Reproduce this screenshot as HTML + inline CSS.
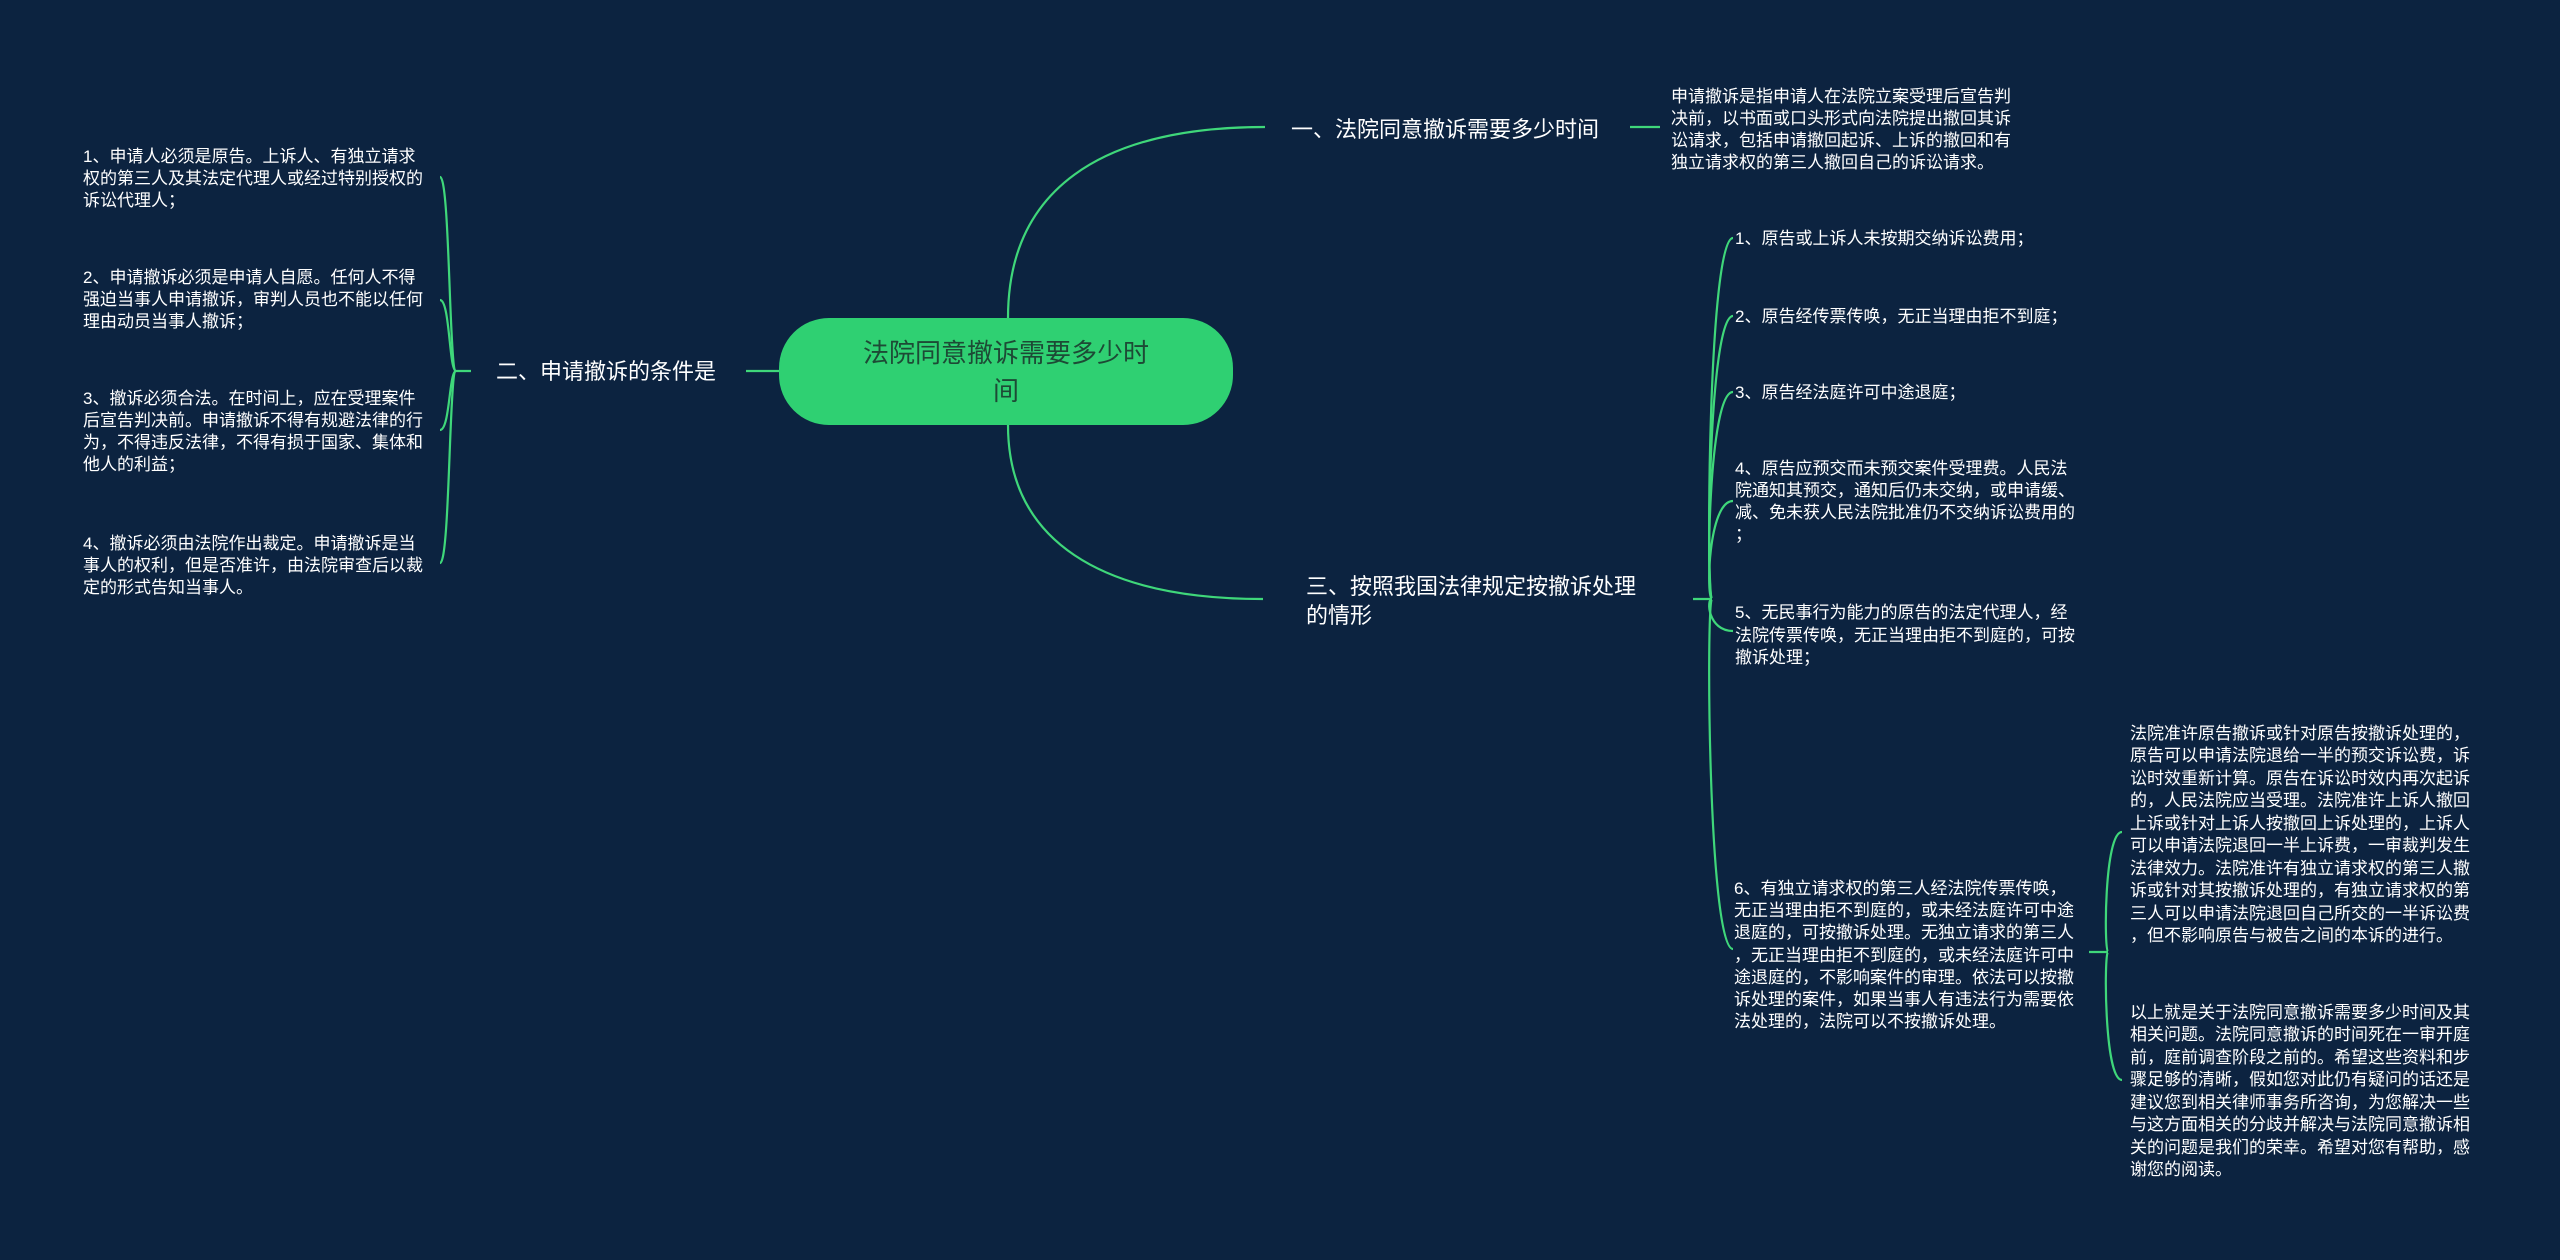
<!DOCTYPE html>
<html><head><meta charset="utf-8"><style>
html,body{margin:0;padding:0;background:#0c2340;}
svg{display:block}
text{font-family:"Liberation Sans","Noto Sans CJK SC",sans-serif;fill:#ffffff;}
.s{font-size:17px}
.t{font-size:22px}
</style></head><body>
<svg width="2560" height="1260" viewBox="0 0 2560 1260" xmlns="http://www.w3.org/2000/svg">
<rect width="2560" height="1260" fill="#0c2340"/>
<g fill="none" stroke="#3fd77a" stroke-width="2.2">
<path d="M1008,318 C1008,190 1100,127 1265,127"/>
<path d="M1008,425 C1008,540 1100,599 1263,599"/>
<path d="M1630,127 L1660,127"/>
<path d="M746,371 L779,371"/>
<path d="M454,371 L471,371"/>
<path d="M456,371 C449,371 450,177 440,177"/>
<path d="M456,371 C449,371 450,300 440,300"/>
<path d="M456,371 C449,371 450,430 440,430"/>
<path d="M456,371 C449,371 450,563 440,563"/>
<path d="M1693,599 L1712,599"/>
<path d="M1712,599 C1706,599 1708,238 1733,238"/>
<path d="M1712,599 C1706,599 1708,316 1733,316"/>
<path d="M1712,599 C1706,599 1708,392 1733,392"/>
<path d="M1712,599 C1706,599 1708,501 1733,501"/>
<path d="M1712,599 C1706,599 1708,631 1733,631"/>
<path d="M1712,599 C1706,599 1708,949 1733,949"/>
<path d="M2089,952 L2108,952"/>
<path d="M2108,952 C2104,952 2104,832 2122,832"/>
<path d="M2108,952 C2104,952 2104,1080 2122,1080"/>
</g>
<rect x="779" y="318" width="454" height="107" rx="50" fill="#2fd072"/>
<text x="1006" y="362" text-anchor="middle" style="font-size:26px;fill:#1d4a35">法院同意撤诉需要多少时</text>
<text x="1006" y="400" text-anchor="middle" style="font-size:26px;fill:#1d4a35">间</text>

<text class="t" x="1291" y="137">一、法院同意撤诉需要多少时间</text>
<text class="t" x="496" y="379">二、申请撤诉的条件是</text>
<text class="t" x="1306" y="594">三、按照我国法律规定按撤诉处理</text>
<text class="t" x="1306" y="623">的情形</text>

<g class="s">
<text class="s" x="1671" y="102">申请撤诉是指申请人在法院立案受理后宣告判</text>
<text class="s" x="1671" y="124">决前，以书面或口头形式向法院提出撤回其诉</text>
<text class="s" x="1671" y="146">讼请求，包括申请撤回起诉、上诉的撤回和有</text>
<text class="s" x="1671" y="168">独立请求权的第三人撤回自己的诉讼请求。</text>

<text class="s" x="83" y="162">1、申请人必须是原告。上诉人、有独立请求</text>
<text class="s" x="83" y="184">权的第三人及其法定代理人或经过特别授权的</text>
<text class="s" x="83" y="206">诉讼代理人；</text>
<text class="s" x="83" y="283">2、申请撤诉必须是申请人自愿。任何人不得</text>
<text class="s" x="83" y="305">强迫当事人申请撤诉，审判人员也不能以任何</text>
<text class="s" x="83" y="327">理由动员当事人撤诉；</text>
<text class="s" x="83" y="404">3、撤诉必须合法。在时间上，应在受理案件</text>
<text class="s" x="83" y="426">后宣告判决前。申请撤诉不得有规避法律的行</text>
<text class="s" x="83" y="448">为，不得违反法律，不得有损于国家、集体和</text>
<text class="s" x="83" y="470">他人的利益；</text>
<text class="s" x="83" y="549">4、撤诉必须由法院作出裁定。申请撤诉是当</text>
<text class="s" x="83" y="571">事人的权利，但是否准许，由法院审查后以裁</text>
<text class="s" x="83" y="593">定的形式告知当事人。</text>

<text class="s" x="1735" y="244">1、原告或上诉人未按期交纳诉讼费用；</text>
<text class="s" x="1735" y="322">2、原告经传票传唤，无正当理由拒不到庭；</text>
<text class="s" x="1735" y="398">3、原告经法庭许可中途退庭；</text>
<text class="s" x="1735" y="474">4、原告应预交而未预交案件受理费。人民法</text>
<text class="s" x="1735" y="496">院通知其预交，通知后仍未交纳，或申请缓、</text>
<text class="s" x="1735" y="518">减、免未获人民法院批准仍不交纳诉讼费用的</text>
<text class="s" x="1735" y="540">；</text>
<text class="s" x="1735" y="618">5、无民事行为能力的原告的法定代理人，经</text>
<text class="s" x="1735" y="641">法院传票传唤，无正当理由拒不到庭的，可按</text>
<text class="s" x="1735" y="663">撤诉处理；</text>

<text class="s" x="1734" y="894">6、有独立请求权的第三人经法院传票传唤，</text>
<text class="s" x="1734" y="916">无正当理由拒不到庭的，或未经法庭许可中途</text>
<text class="s" x="1734" y="938">退庭的，可按撤诉处理。无独立请求的第三人</text>
<text class="s" x="1734" y="961">，无正当理由拒不到庭的，或未经法庭许可中</text>
<text class="s" x="1734" y="983">途退庭的，不影响案件的审理。依法可以按撤</text>
<text class="s" x="1734" y="1005">诉处理的案件，如果当事人有违法行为需要依</text>
<text class="s" x="1734" y="1027">法处理的，法院可以不按撤诉处理。</text>

<text class="s" x="2130" y="739">法院准许原告撤诉或针对原告按撤诉处理的，</text>
<text class="s" x="2130" y="761">原告可以申请法院退给一半的预交诉讼费，诉</text>
<text class="s" x="2130" y="784">讼时效重新计算。原告在诉讼时效内再次起诉</text>
<text class="s" x="2130" y="806">的，人民法院应当受理。法院准许上诉人撤回</text>
<text class="s" x="2130" y="829">上诉或针对上诉人按撤回上诉处理的，上诉人</text>
<text class="s" x="2130" y="851">可以申请法院退回一半上诉费，一审裁判发生</text>
<text class="s" x="2130" y="874">法律效力。法院准许有独立请求权的第三人撤</text>
<text class="s" x="2130" y="896">诉或针对其按撤诉处理的，有独立请求权的第</text>
<text class="s" x="2130" y="919">三人可以申请法院退回自己所交的一半诉讼费</text>
<text class="s" x="2130" y="941">，但不影响原告与被告之间的本诉的进行。</text>

<text class="s" x="2130" y="1018">以上就是关于法院同意撤诉需要多少时间及其</text>
<text class="s" x="2130" y="1040">相关问题。法院同意撤诉的时间死在一审开庭</text>
<text class="s" x="2130" y="1063">前，庭前调查阶段之前的。希望这些资料和步</text>
<text class="s" x="2130" y="1085">骤足够的清晰，假如您对此仍有疑问的话还是</text>
<text class="s" x="2130" y="1108">建议您到相关律师事务所咨询，为您解决一些</text>
<text class="s" x="2130" y="1130">与这方面相关的分歧并解决与法院同意撤诉相</text>
<text class="s" x="2130" y="1153">关的问题是我们的荣幸。希望对您有帮助，感</text>
<text class="s" x="2130" y="1175">谢您的阅读。</text>
</g>
</svg>
</body></html>
